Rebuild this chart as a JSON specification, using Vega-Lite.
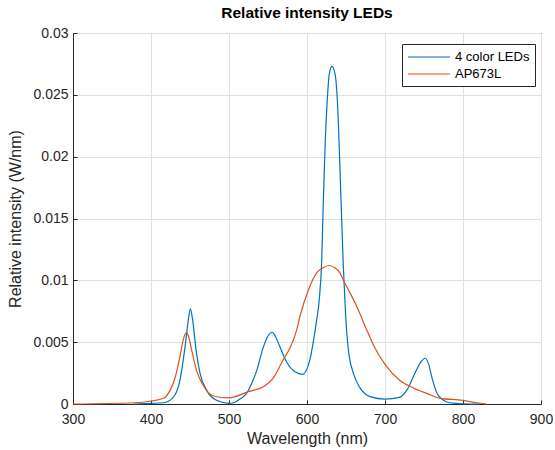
{
  "$schema": "https://vega.github.io/schema/vega-lite/v6.json",
  "width": 468,
  "height": 371,
  "autosize": {"type": "none"},
  "padding": {"left": 73, "top": 33, "right": 14, "bottom": 46},
  "background": "white",
  "title": {"text": "Relative intensity LEDs", "font": "Liberation Sans", "fontSize": 15.5, "fontWeight": "bold", "color": "#000000", "offset": 5},
  "config": {
    "view": {"stroke": "#262626", "strokeWidth": 1},
    "font": "Liberation Sans",
    "axis": {
      "domainColor": "#262626", "tickColor": "#262626", "labelColor": "#262626", "titleColor": "#262626",
      "labelFont": "Liberation Sans", "titleFont": "Liberation Sans", "labelFontSize": 14, "titleFontSize": 16,
      "titleFontWeight": "normal", "gridColor": "#e0e0e0", "gridWidth": 1, "labelFlush": false
    }
  },
  "data": {"values": [
    {"wl": 378, "v": 0, "s": "4 color LEDs"},
    {"wl": 400, "v": 0.00005, "s": "4 color LEDs"},
    {"wl": 416, "v": 0.0001, "s": "4 color LEDs"},
    {"wl": 428, "v": 0.0005, "s": "4 color LEDs"},
    {"wl": 437, "v": 0.0019, "s": "4 color LEDs"},
    {"wl": 443.6, "v": 0.0046, "s": "4 color LEDs"},
    {"wl": 447.9, "v": 0.0068, "s": "4 color LEDs"},
    {"wl": 450.4, "v": 0.0077, "s": "4 color LEDs"},
    {"wl": 453.4, "v": 0.0068, "s": "4 color LEDs"},
    {"wl": 457.7, "v": 0.0044, "s": "4 color LEDs"},
    {"wl": 462.8, "v": 0.0025, "s": "4 color LEDs"},
    {"wl": 471.4, "v": 0.0011, "s": "4 color LEDs"},
    {"wl": 484, "v": 0.0003, "s": "4 color LEDs"},
    {"wl": 500, "v": 0.00005, "s": "4 color LEDs"},
    {"wl": 506, "v": 0.0001, "s": "4 color LEDs"},
    {"wl": 514, "v": 0.0004, "s": "4 color LEDs"},
    {"wl": 523, "v": 0.0009, "s": "4 color LEDs"},
    {"wl": 530, "v": 0.0018, "s": "4 color LEDs"},
    {"wl": 535.5, "v": 0.0027, "s": "4 color LEDs"},
    {"wl": 544, "v": 0.0046, "s": "4 color LEDs"},
    {"wl": 550, "v": 0.0055, "s": "4 color LEDs"},
    {"wl": 555.5, "v": 0.0058, "s": "4 color LEDs"},
    {"wl": 560, "v": 0.0054, "s": "4 color LEDs"},
    {"wl": 565.4, "v": 0.0046, "s": "4 color LEDs"},
    {"wl": 574, "v": 0.0034, "s": "4 color LEDs"},
    {"wl": 584.6, "v": 0.0026, "s": "4 color LEDs"},
    {"wl": 594.4, "v": 0.0024, "s": "4 color LEDs"},
    {"wl": 603.8, "v": 0.0036, "s": "4 color LEDs"},
    {"wl": 608, "v": 0.005, "s": "4 color LEDs"},
    {"wl": 612.4, "v": 0.0068, "s": "4 color LEDs"},
    {"wl": 615.8, "v": 0.0085, "s": "4 color LEDs"},
    {"wl": 618.8, "v": 0.0115, "s": "4 color LEDs"},
    {"wl": 621, "v": 0.0165, "s": "4 color LEDs"},
    {"wl": 623, "v": 0.0205, "s": "4 color LEDs"},
    {"wl": 626, "v": 0.0246, "s": "4 color LEDs"},
    {"wl": 628.6, "v": 0.0267, "s": "4 color LEDs"},
    {"wl": 632, "v": 0.0273, "s": "4 color LEDs"},
    {"wl": 635.9, "v": 0.0267, "s": "4 color LEDs"},
    {"wl": 638.9, "v": 0.0246, "s": "4 color LEDs"},
    {"wl": 641.5, "v": 0.0205, "s": "4 color LEDs"},
    {"wl": 643.6, "v": 0.0165, "s": "4 color LEDs"},
    {"wl": 646.6, "v": 0.0111, "s": "4 color LEDs"},
    {"wl": 649.6, "v": 0.0071, "s": "4 color LEDs"},
    {"wl": 653, "v": 0.0044, "s": "4 color LEDs"},
    {"wl": 659.4, "v": 0.0025, "s": "4 color LEDs"},
    {"wl": 668, "v": 0.0013, "s": "4 color LEDs"},
    {"wl": 680.8, "v": 0.0006, "s": "4 color LEDs"},
    {"wl": 700, "v": 0.0004, "s": "4 color LEDs"},
    {"wl": 718.4, "v": 0.00054, "s": "4 color LEDs"},
    {"wl": 727.8, "v": 0.0011, "s": "4 color LEDs"},
    {"wl": 738.5, "v": 0.0025, "s": "4 color LEDs"},
    {"wl": 746, "v": 0.0034, "s": "4 color LEDs"},
    {"wl": 751.7, "v": 0.0037, "s": "4 color LEDs"},
    {"wl": 756, "v": 0.0032, "s": "4 color LEDs"},
    {"wl": 759.9, "v": 0.0022, "s": "4 color LEDs"},
    {"wl": 768.3, "v": 0.0007, "s": "4 color LEDs"},
    {"wl": 783.3, "v": 0.0001, "s": "4 color LEDs"},
    {"wl": 800, "v": 0.00002, "s": "4 color LEDs"},
    {"wl": 822, "v": 0, "s": "4 color LEDs"},
    {"wl": 300, "v": 0, "s": "AP673L"},
    {"wl": 380, "v": 0.0001, "s": "AP673L"},
    {"wl": 400, "v": 0.00024, "s": "AP673L"},
    {"wl": 416, "v": 0.00046, "s": "AP673L"},
    {"wl": 424.4, "v": 0.0011, "s": "AP673L"},
    {"wl": 430.8, "v": 0.0021, "s": "AP673L"},
    {"wl": 437, "v": 0.0038, "s": "AP673L"},
    {"wl": 441.4, "v": 0.0052, "s": "AP673L"},
    {"wl": 445.3, "v": 0.0058, "s": "AP673L"},
    {"wl": 448, "v": 0.0055, "s": "AP673L"},
    {"wl": 452, "v": 0.0044, "s": "AP673L"},
    {"wl": 458.5, "v": 0.0027, "s": "AP673L"},
    {"wl": 467, "v": 0.0015, "s": "AP673L"},
    {"wl": 480, "v": 0.00065, "s": "AP673L"},
    {"wl": 500, "v": 0.0005, "s": "AP673L"},
    {"wl": 524.8, "v": 0.001, "s": "AP673L"},
    {"wl": 544, "v": 0.0014, "s": "AP673L"},
    {"wl": 556.8, "v": 0.0021, "s": "AP673L"},
    {"wl": 569.6, "v": 0.0036, "s": "AP673L"},
    {"wl": 578, "v": 0.0045, "s": "AP673L"},
    {"wl": 586.8, "v": 0.006, "s": "AP673L"},
    {"wl": 591, "v": 0.0071, "s": "AP673L"},
    {"wl": 601.7, "v": 0.0092, "s": "AP673L"},
    {"wl": 612.4, "v": 0.0106, "s": "AP673L"},
    {"wl": 620, "v": 0.011, "s": "AP673L"},
    {"wl": 628.4, "v": 0.0112, "s": "AP673L"},
    {"wl": 636, "v": 0.011, "s": "AP673L"},
    {"wl": 642.3, "v": 0.0106, "s": "AP673L"},
    {"wl": 646.6, "v": 0.01, "s": "AP673L"},
    {"wl": 655, "v": 0.009, "s": "AP673L"},
    {"wl": 663.7, "v": 0.0079, "s": "AP673L"},
    {"wl": 676.5, "v": 0.006, "s": "AP673L"},
    {"wl": 685, "v": 0.0048, "s": "AP673L"},
    {"wl": 700, "v": 0.0032, "s": "AP673L"},
    {"wl": 719.2, "v": 0.0019, "s": "AP673L"},
    {"wl": 736.3, "v": 0.0013, "s": "AP673L"},
    {"wl": 753.5, "v": 0.00086, "s": "AP673L"},
    {"wl": 770.5, "v": 0.00046, "s": "AP673L"},
    {"wl": 800, "v": 0.0003, "s": "AP673L"},
    {"wl": 817.6, "v": 0.0001, "s": "AP673L"},
    {"wl": 830, "v": 0, "s": "AP673L"}
  ]},
  "mark": {"type": "line", "strokeWidth": 1.2, "interpolate": "monotone"},
  "encoding": {
    "x": {"field": "wl", "type": "quantitative", "title": "Wavelength (nm)",
      "scale": {"domain": [300, 900], "nice": false, "zero": false},
      "axis": {"values": [300, 400, 500, 600, 700, 800, 900], "tickSize": -4, "labelPadding": 12, "titlePadding": 4}},
    "y": {"field": "v", "type": "quantitative", "title": "Relative intensity (W/nm)",
      "scale": {"domain": [0, 0.03], "nice": false},
      "axis": {"values": [0, 0.005, 0.01, 0.015, 0.02, 0.025, 0.03], "format": "~g", "tickSize": -4, "labelPadding": 9, "titlePadding": 9}},
    "color": {"field": "s", "type": "nominal",
      "scale": {"domain": ["4 color LEDs", "AP673L"], "range": ["#0072BD", "#D95319"]},
      "legend": {"title": null, "orient": "none", "legendX": 329, "legendY": 11,
        "symbolType": "M-1,0H5", "symbolSize": 196, "symbolStrokeWidth": 1.2,
        "labelFont": "Liberation Sans", "labelFontSize": 13, "labelColor": "#000000",
        "strokeColor": "#262626", "fillColor": "white", "padding": 5, "rowPadding": 2, "labelOffset": 32}}
  }
}
